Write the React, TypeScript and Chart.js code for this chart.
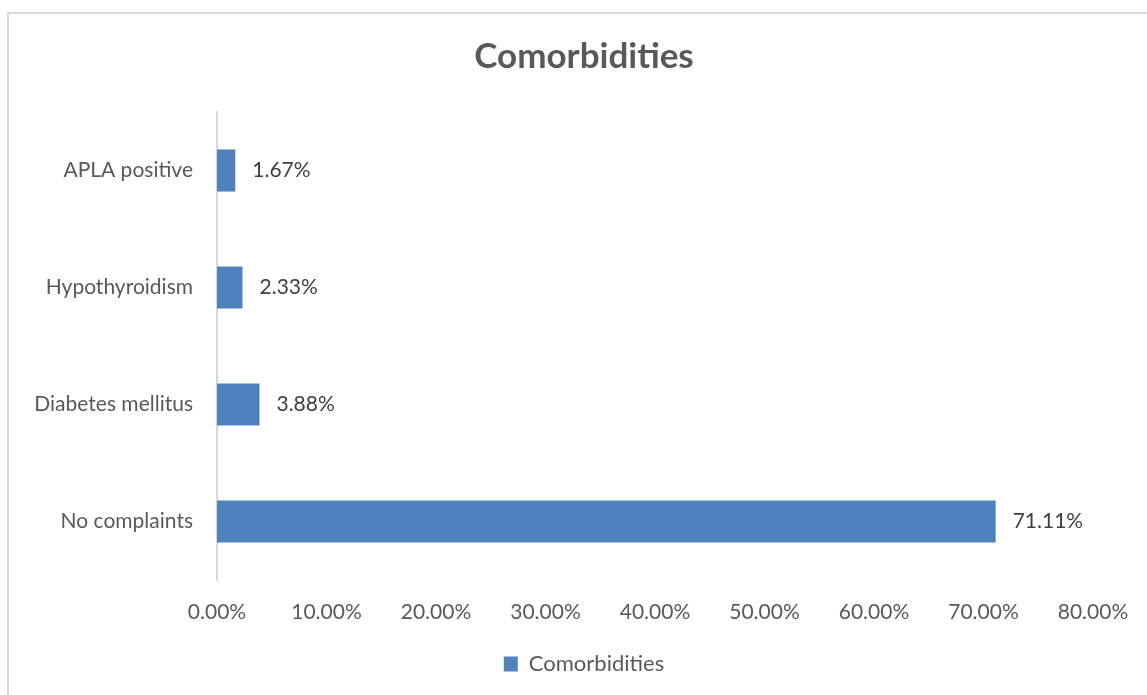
import React, { useEffect, useRef } from "react";
import { Chart, registerables } from "chart.js";

Chart.register(...registerables);

const categories: string[] = ["APLA positive", "Hypothyroidism", "Diabetes mellitus", "No complaints"];
const values: number[] = [1.67, 2.33, 3.88, 71.11];
const seriesName = "Comorbidities";
const chartTitle = "Comorbidities";
const xMin = 0;
const xMax = 80;
const xStep = 10;

const FONT = "Lato, 'Open Sans', sans-serif";

const dataLabelPlugin = {
  id: "dataLabels",
  afterDatasetsDraw(chart: any) {
    const ctx = chart.ctx;
    ctx.save();
    ctx.font = `21px ${FONT}`;
    ctx.fillStyle = "#404040";
    ctx.textAlign = "left";
    ctx.textBaseline = "middle";
    chart.data.datasets.forEach((ds: any, di: number) => {
      const meta = chart.getDatasetMeta(di);
      meta.data.forEach((el: any, i: number) => {
        const v = ds.data[i] as number;
        ctx.fillText(v.toFixed(2) + "%", el.x + 17, el.y);
      });
    });
    ctx.restore();
  },
};

export default function App() {
  const ref = useRef<HTMLCanvasElement | null>(null);
  useEffect(() => {
    if (!ref.current) return;
    const chart = new Chart(ref.current, {
      type: "bar",
      data: {
        labels: categories,
        datasets: [
          {
            label: seriesName,
            data: values,
            backgroundColor: "#4F81BD",
            borderColor: "#4F81BD",
            borderWidth: 0,
            barPercentage: 0.36,
            categoryPercentage: 1,
          },
        ],
      },
      options: {
        indexAxis: "y",
        responsive: false,
        animation: false,
        layout: { padding: { left: 8, right: 0, top: 0, bottom: 10 } },
        plugins: {
          title: {
            display: true,
            text: chartTitle,
            color: "#595959",
            font: { family: FONT, size: 35, weight: "bold" },
            padding: { top: 36, bottom: 34 },
          },
          legend: {
            display: true,
            position: "bottom",
            labels: {
              color: "#595959",
              font: { family: FONT, size: 22 },
              boxWidth: 14,
              boxHeight: 15,
              padding: 9,
            },
          },
          tooltip: { enabled: false },
        },
        scales: {
          x: {
            min: xMin,
            max: xMax,
            ticks: {
              stepSize: xStep,
              color: "#595959",
              font: { family: FONT, size: 21 },
              padding: 20,
              maxRotation: 0,
              callback: (v: any) => Number(v).toFixed(2) + "%",
            },
            grid: { display: false, drawTicks: false },
            border: { display: false },
            afterFit: (scale: any) => {
              scale.height = 64;
            },
          },
          y: {
            ticks: {
              color: "#595959",
              font: { family: FONT, size: 21 },
              padding: 24,
            },
            grid: { display: false, drawTicks: false },
            border: { display: true, color: "#D9D9D9", width: 2 },
            afterFit: (scale: any) => {
              scale.width = 209;
            },
          },
          rightSpace: {
            type: "linear",
            position: "right",
            display: true,
            ticks: { display: false },
            grid: { display: false, drawTicks: false },
            border: { display: false },
            afterFit: (scale: any) => {
              scale.width = 67;
            },
          },
        },
      },
      plugins: [dataLabelPlugin],
    });
    return () => chart.destroy();
  }, []);

  return (
    <div
      style={{
        position: "fixed",
        left: 0,
        top: 0,
        width: 1147,
        height: 695,
        overflow: "hidden",
        background: "#fff",
      }}
    >
      <div
        style={{
          position: "absolute",
          left: 7,
          top: 12,
          width: 1300,
          height: 800,
          border: "2px solid #D9D9D9",
        }}
      />
      <canvas
        ref={ref}
        width={1160}
        height={695}
        style={{ position: "absolute", left: 0, top: 0, width: 1160, height: 695 }}
      />
    </div>
  );
}
